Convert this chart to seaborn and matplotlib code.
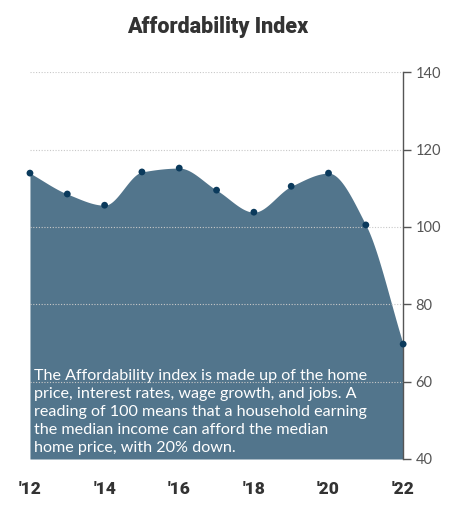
import numpy as np
import matplotlib.pyplot as plt
import seaborn as sns
import pandas as pd

years = [2012, 2013, 2014, 2015, 2016, 2017, 2018, 2019, 2020, 2021, 2022]
index_values = [113.9, 108.5, 105.6, 114.2, 115.2, 109.5, 103.8, 110.5, 113.9, 100.5, 69.7]
x_ticks = [2012, 2014, 2016, 2018, 2020, 2022]
x_labels = ["'12", "'14", "'16", "'18", "'20", "'22"]
y_ticks = [40, 60, 80, 100, 120, 140]
title = "Affordability Index"
note = ("The Affordability index is made up of the home\n"
        "price, interest rates, wage growth, and jobs. A\n"
        "reading of 100 means that a household earning\n"
        "the median income can afford the median\n"
        "home price, with 20% down.")

fill_color = "#52758c"
dot_color = "#0b3a5c"


def monotone_curve(x, y, n=30):
    # monotone cubic (Fritsch-Carlson) for drawing the smooth outline only
    x = np.asarray(x, float)
    y = np.asarray(y, float)
    h = np.diff(x)
    d = np.diff(y) / h
    m = np.zeros_like(y)
    m[0], m[-1] = d[0], d[-1]
    for i in range(1, len(y) - 1):
        if d[i - 1] * d[i] <= 0:
            m[i] = 0
        else:
            m[i] = 3 * (h[i - 1] + h[i]) / ((2 * h[i] + h[i - 1]) / d[i - 1] + (h[i] + 2 * h[i - 1]) / d[i])
    xs, ys = [], []
    for i in range(len(x) - 1):
        t = np.linspace(0, 1, n, endpoint=False)
        h00 = 2 * t**3 - 3 * t**2 + 1
        h10 = t**3 - 2 * t**2 + t
        h01 = -2 * t**3 + 3 * t**2
        h11 = t**3 - t**2
        xs.append(x[i] + t * h[i])
        ys.append(h00 * y[i] + h10 * h[i] * m[i] + h01 * y[i + 1] + h11 * h[i] * m[i + 1])
    xs.append([x[-1]])
    ys.append([y[-1]])
    return np.concatenate(xs), np.concatenate(ys)


sns.set_style("white")
plt.rcParams['font.family'] = ['Lato', 'DejaVu Sans']

df = pd.DataFrame({"year": years, "index": index_values})

fig = plt.figure(figsize=(4.54, 5.07), dpi=100)
ax = fig.add_axes([0.066, 0.0947, 0.822, 0.763])

cx, cy = monotone_curve(df["year"], df["index"])
ax.fill_between(cx, 40, cy, color=fill_color, linewidth=0, zorder=2)
sns.scatterplot(data=df, x="year", y="index", ax=ax, color=dot_color,
                s=24, edgecolor="none", zorder=4, clip_on=False)

for yt in y_ticks[1:]:
    ax.axhline(yt, color="#c8c8c8", linestyle=(0, (1, 1.5)), linewidth=0.8, zorder=3)

ax.set_xlim(2012, 2022)
ax.set_ylim(40, 140)
ax.set_xlabel("")
ax.set_ylabel("")

ax.yaxis.tick_right()
ax.set_yticks(y_ticks)
ax.set_yticklabels([str(v) for v in y_ticks], fontsize=10.5, color="#555555")
ax.set_xticks(x_ticks)
ax.set_xticklabels(x_labels, fontsize=12.5, fontweight="heavy", color="#333333",
                   family=['Roboto', 'DejaVu Sans'])
ax.tick_params(axis="y", direction="out", length=6, width=1, color="#555555", pad=3)
ax.tick_params(axis="x", direction="out", length=6, width=1, color="#555555", pad=10)

for s in ["top", "left", "bottom"]:
    ax.spines[s].set_visible(False)
ax.spines["right"].set_color("#555555")
ax.spines["right"].set_linewidth(1)

ax.text(2012.12, 41.0, note, color="white", fontsize=11.6, linespacing=1.36,
        ha="left", va="bottom", zorder=5)

fig.text(0.48, 0.947, title, ha="center", va="center", fontsize=15.5,
         fontweight="heavy", color="#333333", family=['Roboto', 'DejaVu Sans'])

fig.savefig("out.png", dpi=100)
